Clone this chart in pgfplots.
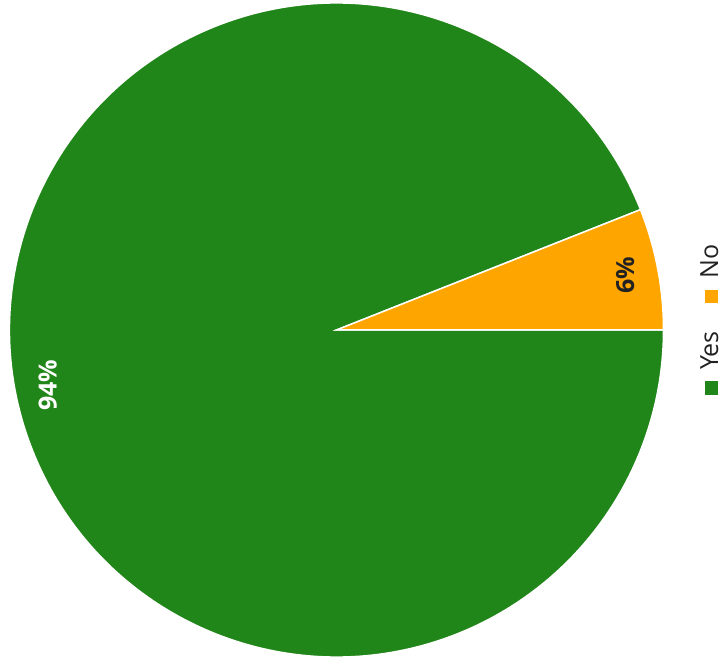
\documentclass[border=0pt]{standalone}
\usepackage{pgfplots}
\pgfplotsset{compat=1.18}
\usetikzlibrary{calc}
\usepackage{fontspec}
\setmainfont{Open Sans}
\definecolor{pgreen}{RGB}{33,134,25}
\definecolor{porange}{RGB}{255,165,0}
\definecolor{ptext}{RGB}{34,34,34}
\begin{document}
\begin{tikzpicture}
% data: Yes = 94, No = 6
\pgfmathsetmacro{\vNo}{6}
\pgfmathsetmacro{\vYes}{94}
\pgfmathsetmacro{\vTot}{\vNo+\vYes}
\pgfmathsetmacro{\aNo}{\vNo/\vTot*360}
\pgfmathsetmacro{\mNo}{\aNo/2}
\pgfmathsetmacro{\mYes}{\aNo+\vYes/\vTot*180}
\begin{axis}[hide axis, scale only axis, width=723pt, height=665pt,
  xmin=0, xmax=723, ymin=0, ymax=665, clip=false]
\fill[pgreen, draw=white, line width=1.5pt] (axis cs:336.5,335) -- ++(\aNo:327pt) arc[start angle=\aNo, end angle=360, radius=327pt] -- cycle;
\fill[porange, draw=white, line width=1.5pt] (axis cs:336.5,335) -- ++(0:327pt) arc[start angle=0, end angle=\aNo, radius=327pt] -- cycle;
\node[rotate=90, inner sep=0pt, font=\fontsize{25}{30}\selectfont\bfseries, text=ptext] at ($(axis cs:336.5,335)+(\mNo:294pt)$) {6\%};
\node[rotate=90, inner sep=0pt, font=\fontsize{25}{30}\selectfont\bfseries, text=white] at ($(axis cs:336.5,335)+(\mYes:294pt)$) {94\%};
% legend
\fill[pgreen] (axis cs:704.5,270.5) rectangle (axis cs:718,284);
\node[rotate=90, anchor=base west, inner sep=0pt, font=\fontsize{25}{30}\selectfont, text=ptext] at (axis cs:718,295) {Yes};
\fill[porange] (axis cs:704.5,361.5) rectangle (axis cs:718,375);
\node[rotate=90, anchor=base west, inner sep=0pt, font=\fontsize{25}{30}\selectfont, text=ptext] at (axis cs:718,386) {No};
\end{axis}
\pgfresetboundingbox
\path (current axis.south west) rectangle (current axis.north east);
\end{tikzpicture}
\end{document}
